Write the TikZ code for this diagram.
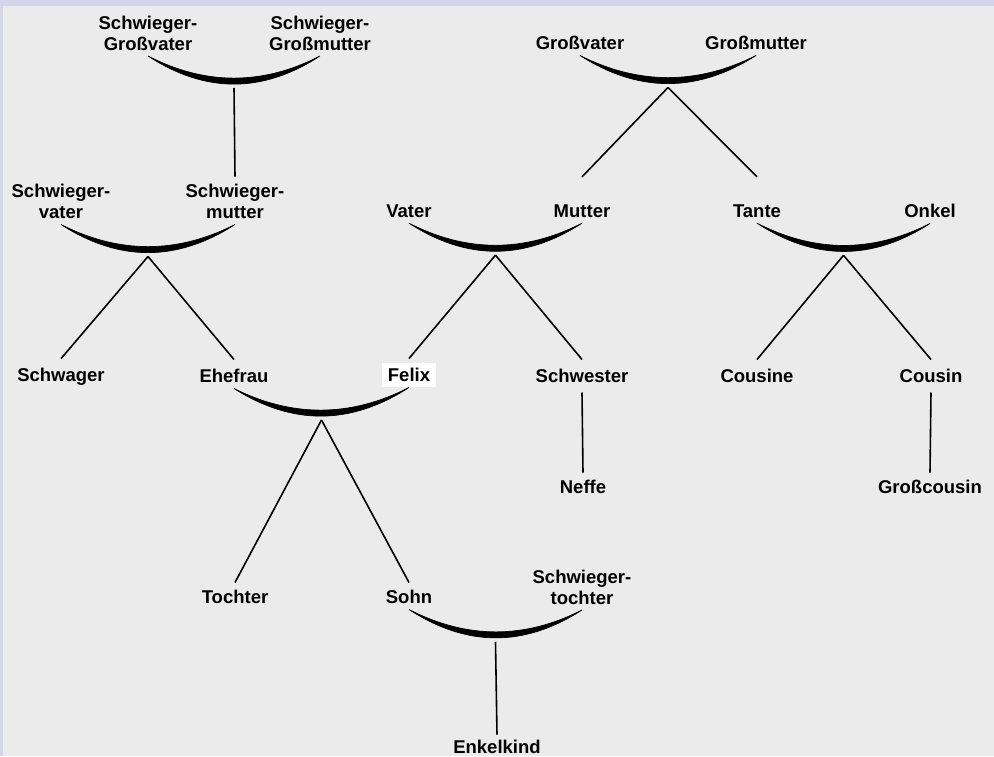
\documentclass[tikz,border=0pt]{standalone}
\usepackage{fontspec}
\setmainfont{Liberation Sans}
\usetikzlibrary{calc}

\definecolor{rim}{RGB}{212,213,234}
\definecolor{paper}{RGB}{235,235,235}

% crescent under two partners, #3 = point where the children hang
\newcommand{\couple}[3]{%
	\coordinate (#3-l) at (#1.south);
	\coordinate (#3-r) at (#2.south);
	\filldraw[bond] (#3-l) .. controls ($(#3-l)!1/3!(#3-r)+(0,29.5)$) and ($(#3-l)!2/3!(#3-r)+(0,29.5)$) .. (#3-r)
		.. controls ($(#3-l)!2/3!(#3-r)+(0,37.5)$) and ($(#3-l)!1/3!(#3-r)+(0,37.5)$) .. (#3-l) -- cycle;
	\coordinate (#3) at ($(#3-l)!.5!(#3-r)+(0,32)$);
}

\begin{document}
\begin{tikzpicture}[x=1pt,y=-1pt,
		person/.style={font=\bfseries\fontsize{18.5}{21}\selectfont,align=center,inner sep=5.5pt},
		me/.style={person,fill=white},
		bond/.style={line width=.7pt},
		link/.style={line width=1.6pt}]
				\useasboundingbox (0,0) rectangle (994,756);
				\fill[rim] (0,0) rectangle (994,756);
				\fill[paper] (3,6) rectangle (994,756);

				\node[person] (sgv) at (148,33) {Schwieger-\\Großvater};
				\node[person] (sgm) at (320,33) {Schwieger-\\Großmutter};
				\node[person] (gv) at (580,43) {Großvater};
				\node[person] (gm) at (756,43) {Großmutter};

				\node[person] (sv) at (61,201.5) {Schwieger-\\vater};
				\node[person] (sm) at (235,201.5) {Schwieger-\\mutter};
				\node[person] (vater) at (409,211) {Vater};
				\node[person] (mutter) at (582,211) {Mutter};
				\node[person] (tante) at (757,211) {Tante};
				\node[person] (onkel) at (930,211) {Onkel};

				\node[person] (schwager) at (61,377) {Schwager};
				\node[person] (ehefrau) at (234,376) {Ehefrau};
				\node[me] (felix) at (409,375) {Felix};
				\node[person] (schwester) at (582,376) {Schwester};
				\node[person] (cousine) at (757,376) {Cousine};
				\node[person] (cousin) at (931,376) {Cousin};

				\node[person] (neffe) at (583,487) {Neffe};
				\node[person] (grosscousin) at (930,487) {Großcousin};

				\node[person] (tochter) at (235,597) {Tochter};
				\node[person] (sohn) at (409,597) {Sohn};
				\node[person] (stochter) at (582,587) {Schwieger-\\tochter};

				\node[person] (enkelkind) at (497,747) {Enkelkind};

				\couple{sgv}{sgm}{sg}
				\couple{gv}{gm}{g}
				\couple{sv}{sm}{s}
				\couple{vater}{mutter}{vm}
				\couple{tante}{onkel}{to}
				\couple{ehefrau}{felix}{ef}
				\couple{sohn}{stochter}{ss}

				\draw[link] (sg) -- ([yshift=2pt]sm.north);
				\draw[link] (g) -- ([yshift=22pt]mutter.north);
				\draw[link] (g) -- ([yshift=22pt]tante.north);
				\draw[link] (s) -- ([yshift=4pt]schwager.north);
				\draw[link] (s) -- ([yshift=4pt]ehefrau.north);
				\draw[link] (vm) -- ([yshift=4pt]felix.north);
				\draw[link] (vm) -- ([yshift=4pt]schwester.north);
				\draw[link] (to) -- ([yshift=4pt]cousine.north);
				\draw[link] (to) -- ([yshift=4pt]cousin.north);
				\draw[link] ([yshift=-4pt]schwester.south) -- ([yshift=2pt]neffe.north);
				\draw[link] ([yshift=-4pt]cousin.south) -- ([yshift=2pt]grosscousin.north);
				\draw[link] (ef) -- ([yshift=2pt]tochter.north);
				\draw[link] (ef) -- ([yshift=2pt]sohn.north);
				\draw[link] (ss) -- (enkelkind.north);
			\end{tikzpicture}
\end{document}
